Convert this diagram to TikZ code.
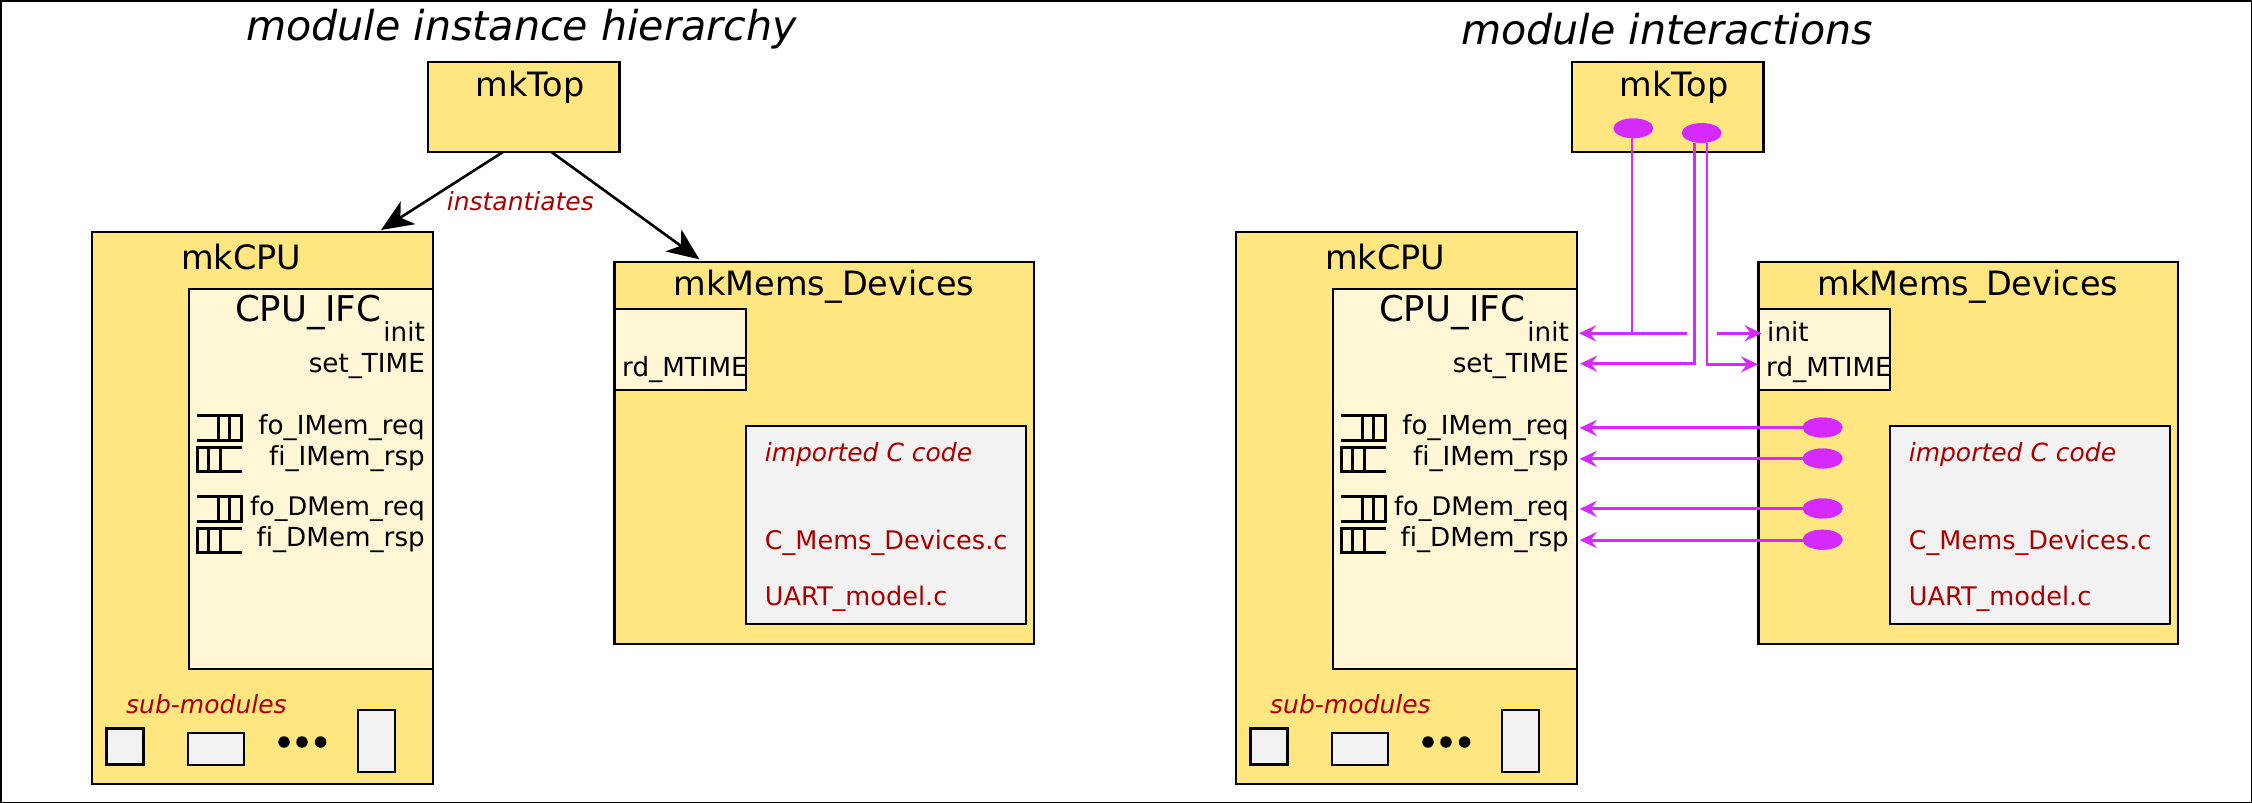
\documentclass[tikz,border=0pt]{standalone}
\usepackage{fontspec}
\setmainfont[Ligatures=NoCommon]{DejaVu Sans}
\usetikzlibrary{arrows.meta,shapes.geometric}
\definecolor{modyellow}{HTML}{FFE680}
\definecolor{ifcyellow}{HTML}{FFF6D5}
\definecolor{cgray}{HTML}{F2F2F2}
\definecolor{cred}{HTML}{AA0000}
\definecolor{iface}{HTML}{D42AFF}
\tikzset{
  box/.style={draw=black,line width=2.4pt,inner sep=0pt,outer sep=0pt,anchor=north west},
  modbox/.style={box,fill=modyellow},
  ifcbox/.style={box,fill=ifcyellow},
  graybox/.style={box,fill=cgray},
  txtL/.style={inner sep=0pt,anchor=base west,font=\fontsize{26.2}{26}\selectfont},
  txtR/.style={inner sep=0pt,anchor=base east,font=\fontsize{26.2}{26}\selectfont},
  big/.style={inner sep=0pt,anchor=base west,font=\fontsize{33.5}{33}\selectfont},
  title/.style={inner sep=0pt,anchor=base west,font=\fontsize{41.2}{41}\selectfont\itshape},
  redtxt/.style={txtL,text=cred,font=\fontsize{25.6}{26}\selectfont},
  reditalic/.style={txtL,text=cred,font=\fontsize{25}{25}\selectfont\itshape},
  fifo/.style={line width=3pt,line cap=butt},
  blackarrow/.style={line width=2.6pt,-{Stealth[length=32pt,width=27pt,inset=9pt]}},
  magarrow/.style={draw=iface,line width=3pt,-{Stealth[length=17pt,width=16pt,inset=6pt]}},
  magline/.style={draw=iface,line width=2.6pt},
  port/.style={ellipse,fill=iface,inner sep=0pt,outer sep=0pt,minimum width=40pt,minimum height=20pt},
  dot/.style={circle,fill=black,inner sep=0pt,outer sep=0pt,minimum size=11.5pt}
}
\newcommand{\fifoOut}[2]{%
  \draw[fifo] (196.7,#1) -- (241.2,#1) -- (241.2,#2) -- (196.7,#2);
  \draw[fifo] (218.7,#1) -- (218.7,#2) (229.5,#1) -- (229.5,#2);}
\newcommand{\fifoIn}[2]{%
  \draw[fifo] (241.7,#1) -- (197.2,#1) -- (197.2,#2) -- (241.7,#2);
  \draw[fifo] (208.5,#1) -- (208.5,#2) (220.7,#1) -- (220.7,#2);}
\newcommand{\modulesCopy}[2]{%
\begin{scope}[xshift=#2pt]
  \node[modbox,minimum width=191.5pt,minimum height=90pt] (#1top) at (428,62) {};
  \node[big] (#1toplabel) at (475.5,96) {mkTop};
  \node[modbox,minimum width=341pt,minimum height=552pt] (#1cpu) at (92,232) {};
  \node[big] (#1cpulabel) at (181,269) {mkCPU};
  \node[ifcbox,minimum width=243.5pt,minimum height=380pt] (#1ifc) at (189.2,289) {};
  \node[big,font=\fontsize{35.5}{35}\selectfont] (#1ifclabel) at (235,321) {CPU\_IFC};
  \node[txtR] (#1init) at (425,341.5) {init};
  \node[txtR] (#1settime) at (425,372.5) {set\_TIME};
  \fifoOut{415}{440}
  \fifoIn{447}{471}
  \fifoOut{496.5}{521}
  \fifoIn{528}{552}
  \node[txtR] (#1foi) at (425,434.3) {fo\_IMem\_req};
  \node[txtR] (#1fii) at (425,465.7) {fi\_IMem\_rsp};
  \node[txtR,font=\fontsize{25.6}{26}\selectfont] (#1fod) at (425,515.7) {fo\_DMem\_req};
  \node[txtR,font=\fontsize{26.2}{26}\selectfont] (#1fid) at (425,546.7) {fi\_DMem\_rsp};
  \node[reditalic] (#1sub) at (126,713.3) {sub-modules};
  \node[graybox,minimum width=37pt,minimum height=36pt] (#1suba) at (106.6,728.5) {};
  \node[graybox,minimum width=56pt,minimum height=32pt] (#1subb) at (188,733) {};
  \node[graybox,minimum width=37pt,minimum height=62pt] (#1subc) at (358,710) {};
  \node[dot] (#1dota) at (284,742) {};
  \node[dot] (#1dotb) at (302,742) {};
  \node[dot] (#1dotc) at (320.6,742) {};
  \node[modbox,minimum width=419.5pt,minimum height=382pt] (#1mem) at (614.5,262) {};
  \node[big,anchor=base] (#1memlabel) at (824,295.7) {mkMems\_Devices};
  \node[ifcbox,minimum width=131.5pt,minimum height=81pt] (#1rd) at (614.5,309) {};
  \node[txtL] (#1rdlabel) at (622,376.7) {rd\_MTIME};
  \node[graybox,minimum width=280pt,minimum height=197.7pt] (#1c) at (746,426) {};
  \node[reditalic] (#1imp) at (764.6,461.7) {imported C code};
  \node[redtxt] (#1cm) at (764.6,549.3) {C\_Mems\_Devices.c};
  \node[redtxt] (#1um) at (764.6,605) {UART\_model.c};
\end{scope}}
\begin{document}
\begin{tikzpicture}[x=1pt,y=-1pt]
\useasboundingbox (0,0) rectangle (2252,803);
\node[draw=black,fill=white,line width=1.5pt,anchor=north west,inner sep=0pt,outer sep=0pt,minimum width=2250.5pt,minimum height=801.5pt] (frame) at (0.75,0.75) {};
\node[title] (titleL) at (246,40.7) {module instance hierarchy};
\node[title] (titleR) at (1461,44.3) {module interactions};
\modulesCopy{L}{0}
\modulesCopy{R}{1144}
% left: instantiates
\coordinate (cpuTip) at (381,230);
\coordinate (memTip) at (699.4,259.3);
\draw[blackarrow] (Ltop.south west)++(75,0) -- (cpuTip);
\draw[blackarrow] (Ltop.south west)++(123.4,0) -- (memTip);
\node[reditalic] (inst) at (446.6,210.7) {instantiates};
% right: interactions
\node[txtL] (Rinitm) at (1767,341) {init};
\node[port] (pinit) at (1633.3,128.3) {};
\node[port] (ptime) at (1701.7,133) {};
\coordinate (jinit) at (1632,333.3);
\coordinate (ainitL) at (1686.7,333.3);
\coordinate (tinitL) at (1579,333.3);
\coordinate (sinitR) at (1717,333.3);
\coordinate (tinitR) at (1761.7,333.3);
\coordinate (jtime) at (1694.7,363.7);
\coordinate (ttimeL) at (1580,363.7);
\coordinate (jtimeR) at (1707,364.3);
\coordinate (ttimeR) at (1758,364.3);
\draw[magline] (pinit.south -| jinit) -- (jinit);
\draw[magarrow] (ainitL) -- (tinitL);
\draw[magarrow] (sinitR) -- (tinitR);
\draw[magarrow,line width=2.6pt] (ptime.south -| jtime) -- (jtime) -- (ttimeL);
\draw[magarrow,line width=2.6pt] (ptime.south -| jtimeR) -- (jtimeR) -- (ttimeR);
\foreach \n/\y in {a/427.5,b/458.5,c/508.5,d/539.7}{
  \node[port] (p\n) at (1822.6,\y) {};
  \coordinate (t\n) at (1579.7,\y+0.4);
  \draw[magarrow] (p\n.center |- t\n) -- (t\n);
  \node[port] at (p\n) {};
}
\end{tikzpicture}
\end{document}
